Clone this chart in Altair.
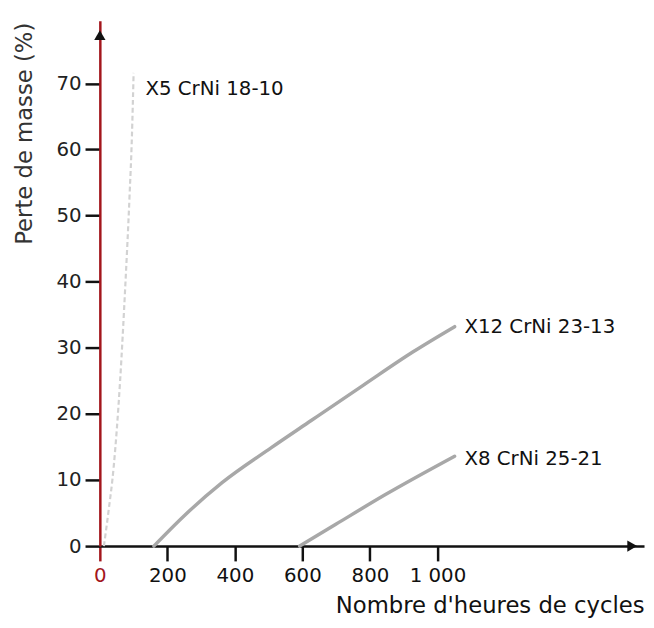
import altair as alt
import pandas as pd

# ---- data ----
x5_hours = [12, 25, 41, 60, 75, 88, 95, 100]
x5_loss = [0, 5, 12, 25, 39, 53, 62, 71.6]

x12_hours = [160, 250, 362, 508, 626, 782, 928, 1051]
x12_loss = [0, 4.6, 9.6, 14.9, 19.0, 24.4, 29.4, 33.2]

x8_hours = [592, 699, 846, 1051]
x8_loss = [0, 3.3, 7.8, 13.6]

series_names = ["X5 CrNi 18-10", "X12 CrNi 23-13", "X8 CrNi 25-21"]
label_hours = [135, 1080, 1080]
label_loss = [69.2, 33.2, 13.2]

x_ticks = [0, 200, 400, 600, 800, 1000]
y_ticks = [0, 10, 20, 30, 40, 50, 60, 70]

X_MAX = 1612
Y_MAX = 79.5
RED = "#a3161c"
FONT = "DejaVu Sans"

df5 = pd.DataFrame({"h": x5_hours, "v": x5_loss})
df_main = pd.concat([
    pd.DataFrame({"h": x12_hours, "v": x12_loss, "s": series_names[1]}),
    pd.DataFrame({"h": x8_hours, "v": x8_loss, "s": series_names[2]}),
])
df_lab = pd.DataFrame({"h": label_hours, "v": label_loss, "t": series_names})
df_arrow_y = pd.DataFrame({"h": [0], "v": [77.3]})
df_arrow_x = pd.DataFrame({"h": [1577], "v": [0]})

xscale = alt.Scale(domain=[0, X_MAX], nice=False, zero=False)
yscale = alt.Scale(domain=[0, Y_MAX], nice=False, zero=False)

x_axis = alt.Axis(
    values=x_ticks,
    labelExpr="datum.value >= 1000 ? '1 000' : '' + datum.value",
    title="Nombre d'heures de cycles",
    titleFont=FONT, titleFontSize=23, titleFontWeight="normal", titleColor="#111",
    titleAnchor="end", titleAlign="right", titleBaseline="alphabetic",
    titleX=551, titleY=67,
    labelFont=FONT, labelFontSize=20,
    labelColor={"condition": {"test": "datum.value === 0", "value": RED}, "value": "#111"},
    tickColor={"condition": {"test": "datum.value === 0", "value": RED}, "value": "#111"},
    labelPadding=5, tickSize=15, tickWidth=2.5,
    domainColor="#111", domainWidth=2.5, grid=False, labelFlush=False,
)
y_axis = alt.Axis(
    values=y_ticks,
    title="Perte de masse (%)",
    titleFont=FONT, titleFontSize=23, titleFontWeight="normal", titleColor="#333",
    titleAngle=-90, titleAlign="center", titleBaseline="alphabetic",
    titleX=-69, titleY=114,
    labelFont=FONT, labelFontSize=20, labelColor="#222",
    labelPadding=4, tickSize=15, tickWidth=2.5, tickColor="#111",
    domainColor=RED, domainWidth=2.5, grid=False, labelFlush=False,
)

base_x = alt.X("h:Q", scale=xscale, axis=x_axis)
base_y = alt.Y("v:Q", scale=yscale, axis=y_axis)

line5 = alt.Chart(df5).mark_line(
    color="#d2d2d2", strokeWidth=2.2, strokeDash=[5, 3], interpolate="monotone"
).encode(x=base_x, y=base_y)

lines = alt.Chart(df_main).mark_line(
    color="#a8a8a8", strokeWidth=3.5, interpolate="monotone", strokeCap="round"
).encode(
    x=alt.X("h:Q", scale=xscale),
    y=alt.Y("v:Q", scale=yscale),
    detail="s:N",
)

labels = alt.Chart(df_lab).mark_text(
    align="left", baseline="middle", font=FONT, fontSize=20, color="#111"
).encode(x=alt.X("h:Q", scale=xscale), y=alt.Y("v:Q", scale=yscale), text="t:N")

arrow_y = alt.Chart(df_arrow_y).mark_point(
    shape="triangle-up", filled=True, color="#111", size=130, opacity=1
).encode(x=alt.X("h:Q", scale=xscale), y=alt.Y("v:Q", scale=yscale))

arrow_x = alt.Chart(df_arrow_x).mark_point(
    shape="triangle-right", filled=True, color="#111", size=130, opacity=1
).encode(x=alt.X("h:Q", scale=xscale), y=alt.Y("v:Q", scale=yscale))

chart = alt.layer(line5, lines, labels, arrow_y, arrow_x).properties(
    width=551,
    height=532,
    autosize=alt.AutoSizeParams(type="none"),
    padding={"left": 93, "top": 9, "right": 2, "bottom": 71},
    background="white",
).configure_view(stroke=None)

chart.save("out.html", embed_options={"renderer": "svg", "actions": False})
